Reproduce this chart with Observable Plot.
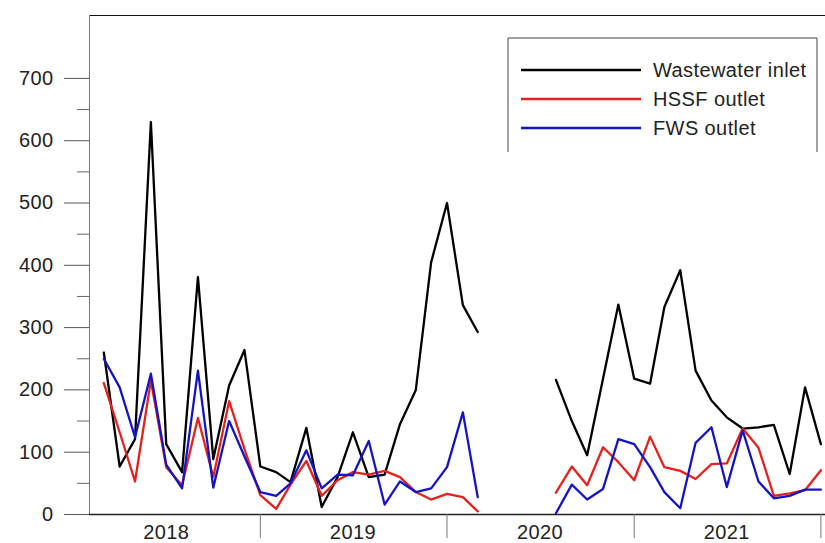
<!DOCTYPE html>
<html>
<head>
<meta charset="utf-8">
<script src="https://cdn.jsdelivr.net/npm/d3@7"></script>
<script src="https://cdn.jsdelivr.net/npm/@observablehq/plot@0.6"></script>
<style>
  html, body { margin: 0; padding: 0; background: #fff; }
  #chart { position: relative; width: 825px; height: 543px; }
  svg { display: block; }
</style>
</head>
<body>
<div id="chart"></div>
<script>
// ---- Data (monthly values) ----
const seriesNames = ["Wastewater inlet", "HSSF outlet", "FWS outlet"];
const seriesColors = ["#000000", "#e8201c", "#1414c4"];

// Segment 1: March 2018 – March 2020 (25 months)
const seg1Start = "2018-03-01";
const inlet1 = [260, 77, 121, 630, 113, 68, 381, 89, 207, 264, 77, 68, 52, 139, 12, 60, 132, 60, 64, 145, 200, 405, 500, 336, 293];
const hssf1  = [211, 132, 53, 215, 76, 47, 155, 60, 182, 105, 31, 9, 48, 86, 30, 55, 68, 64, 70, 60, 36, 24, 33, 28, 5];
const fws1   = [250, 204, 124, 226, 80, 42, 231, 43, 150, 93, 36, 30, 50, 103, 42, 64, 63, 118, 16, 53, 36, 42, 76, 164, 28];

// Segment 2: August 2020 – January 2022 (18 months)
const seg2Start = "2020-08-01";
const inlet2 = [216, 150, 95, 218, 337, 218, 210, 333, 392, 231, 183, 156, 138, 140, 144, 65, 204, 113];
const hssf2  = [35, 77, 47, 108, 84, 55, 125, 76, 70, 57, 81, 82, 138, 107, 30, 34, 39, 71];
const fws2   = [2, 48, 24, 41, 121, 113, 76, 36, 10, 115, 140, 44, 135, 53, 26, 30, 40, 40];

// Axis ticks
const yMajorTicks = [0, 100, 200, 300, 400, 500, 600, 700];
const yMinorTicks = [50, 150, 250, 350, 450, 550, 650];
const yearBoundaries = ["2019-01-01", "2020-01-01", "2021-01-01", "2022-01-01"];
const yearLabels = ["2018", "2019", "2020", "2021"];

// ---- Build tables ----
function rows(values, start, seg) {
  const s = new Date(start);
  return values.map((v, i) => ({date: d3.utcMonth.offset(s, i), value: v, seg}));
}
const inletRows = [...rows(inlet1, seg1Start, 1), ...rows(inlet2, seg2Start, 2)];
const hssfRows  = [...rows(hssf1, seg1Start, 1), ...rows(hssf2, seg2Start, 2)];
const fwsRows   = [...rows(fws1, seg1Start, 1), ...rows(fws2, seg2Start, 2)];
const boundaryDates = yearBoundaries.map(d => new Date(d));
const labelDates = yearLabels.map(y => new Date(`${y}-07-01`));

const font = "'Liberation Sans', Arial, sans-serif";

const plot = Plot.plot({
  width: 825,
  height: 543,
  marginLeft: 89,
  marginRight: 0,
  marginTop: 15,
  marginBottom: 29,
  style: {fontFamily: font, fontSize: "20px", color: "#222", background: "#fff", letterSpacing: "0.4px"},
  x: {type: "utc", domain: [new Date("2018-02-01"), new Date("2022-01-10")], axis: null},
  y: {domain: [0, 801], axis: null},
  marks: [
    Plot.frame({anchor: "top", stroke: "#111"}),
    Plot.frame({anchor: "left", stroke: "#777"}),
    Plot.axisY(yMinorTicks, {tickSize: 12, tickFormat: () => "", stroke: "#666", label: null}),
    Plot.axisY(yMajorTicks, {tickSize: 25, tickPadding: 11, stroke: "#555", fill: "#222", fontSize: 20, label: null}),
    Plot.ruleY([0], {stroke: "#222", strokeWidth: 1.3}),
    Plot.axisX(boundaryDates, {tickSize: 24, tickFormat: () => "", stroke: "#777", label: null}),
    Plot.axisX(labelDates, {tickSize: 0, tickPadding: 10, tickFormat: d => String(d.getUTCFullYear()), fill: "#222", fontSize: 20, label: null}),
    Plot.line(inletRows, {x: "date", y: "value", z: "seg", stroke: seriesColors[0], strokeWidth: 2.3}),
    Plot.line(hssfRows, {x: "date", y: "value", z: "seg", stroke: seriesColors[1], strokeWidth: 2.3}),
    Plot.line(fwsRows, {x: "date", y: "value", z: "seg", stroke: seriesColors[2], strokeWidth: 2.3})
  ]
});
document.getElementById("chart").appendChild(plot);

// ---- Legend (inside the plot, top right) ----
const svg = d3.select(plot);
const lg = svg.append("g").attr("font-family", font).attr("font-size", 20)
  .attr("fill", "#222").attr("text-anchor", "start").style("letter-spacing", "0.4px");
const box = {x0: 508, x1: 817, y0: 38, y1: 152};
lg.append("rect").attr("x", box.x0).attr("y", box.y0).attr("width", box.x1 - box.x0).attr("height", box.y1 - box.y0)
  .attr("fill", "#fff").attr("stroke", "none");
lg.append("path")
  .attr("d", `M${box.x0},${box.y1}V${box.y0}H${box.x1}V${box.y1}`)
  .attr("fill", "none").attr("stroke", "#444").attr("stroke-width", 1);
seriesNames.forEach((name, i) => {
  const yy = 70 + i * 29;
  lg.append("line").attr("x1", 521).attr("x2", 641).attr("y1", yy).attr("y2", yy)
    .attr("stroke", seriesColors[i]).attr("stroke-width", 2.3);
  lg.append("text").attr("x", 653).attr("y", yy).attr("dy", "0.35em").attr("text-anchor", "start").text(name);
});
</script>
</body>
</html>
